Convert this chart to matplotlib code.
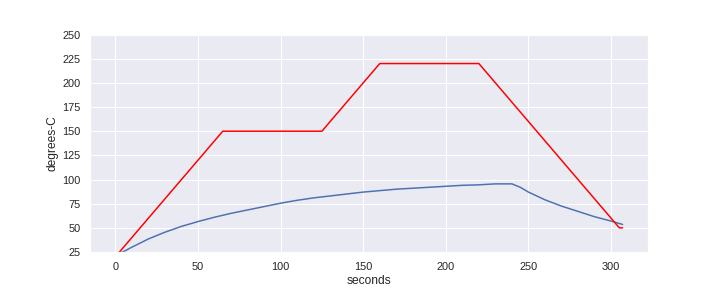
import matplotlib
matplotlib.use('Agg')
import matplotlib.pyplot as plt
import seaborn as sns

sns.set_theme()
plt.rcParams['font.family'] = ['Liberation Sans', 'DejaVu Sans']

# setpoint profile (red)
set_t = [0, 65, 125, 160, 220, 305, 307]
set_v = [20, 150, 150, 220, 220, 50, 50]

# measured temperature (blue)
temp_t = [0, 5, 10, 20, 30, 40, 50, 60, 70, 80, 90, 100, 110, 120, 130, 140,
          150, 160, 170, 180, 190, 200, 210, 220, 230, 240, 245, 250, 260,
          270, 280, 290, 300, 307]
temp_v = [21.5, 25.5, 30, 38.5, 45.5, 51.5, 56.5, 61, 65, 68.5, 72, 75.5,
          78.5, 81, 83, 85, 87, 88.5, 90, 91, 92, 93, 94, 94.5, 95.5, 95.5,
          92, 87, 79, 72.5, 67, 61.5, 57, 53.5]

fig = plt.figure(figsize=(10, 4), dpi=72)
plt.plot(temp_t, temp_v)
plt.plot(set_t, set_v, color='red')
plt.ylim(25, 250)
plt.xlabel('seconds')
plt.ylabel('degrees-C')
plt.gcf().subplots_adjust(bottom=0.125, top=0.88)
plt.savefig('out.png')
